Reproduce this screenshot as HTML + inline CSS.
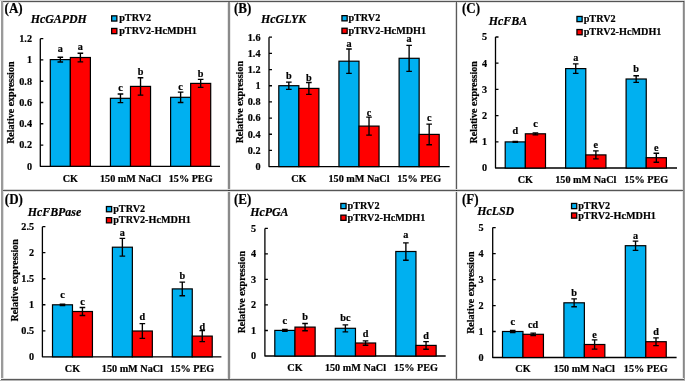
<!DOCTYPE html>
<html><head><meta charset="utf-8"><style>
html,body{margin:0;padding:0;background:#fff;width:685px;height:381px;overflow:hidden}
svg{display:block;will-change:transform}
text{font-family:"Liberation Serif",serif;font-weight:bold;fill:#000;stroke:#000;stroke-width:0.2px}
.t{font-size:10.2px}
.pl{font-size:14.2px}
.ti{font-size:11.9px;font-style:italic}
</style></head><body>
<svg width="685" height="381" viewBox="0 0 685 381">
<rect x="0" y="0" width="685" height="381" fill="#fff"/>
<rect x="0" y="0" width="685" height="1" fill="#d8d8d8"/>
<rect x="1" y="1" width="683" height="1" fill="#555"/>
<rect x="1" y="2" width="683" height="1" fill="#e4e4e4"/>
<rect x="1" y="1" width="2" height="379" fill="#9a9a9a"/>
<rect x="3" y="2" width="1" height="377" fill="#dedede"/>
<rect x="682" y="2" width="1" height="377" fill="#e8e8e8"/>
<rect x="683" y="2" width="1" height="378" fill="#888"/>
<rect x="683" y="1" width="1" height="1" fill="#444"/>
<rect x="684" y="1" width="1" height="380" fill="#9c9c9c"/>
<rect x="1" y="378" width="683" height="1" fill="#e4e4e4"/>
<rect x="1" y="379" width="683" height="1" fill="#5a5a5a"/>
<rect x="0" y="380" width="685" height="1" fill="#b4b4b4"/>
<rect x="227" y="2" width="1" height="377" fill="#e6e6e6"/>
<rect x="228" y="2" width="2" height="377" fill="#8a8a8a"/>
<rect x="230" y="2" width="1" height="377" fill="#eaeaea"/>
<rect x="455" y="2" width="1" height="377" fill="#d8d8d8"/>
<rect x="456" y="2" width="1" height="377" fill="#5a5a5a"/>
<rect x="457" y="2" width="1" height="377" fill="#e6e6e6"/>
<rect x="3" y="189" width="680" height="1" fill="#d6d6d6"/>
<rect x="3" y="190" width="680" height="1" fill="#555"/>
<rect x="3" y="191" width="680" height="1" fill="#dcdcdc"/>
<rect x="228" y="190" width="2" height="1" fill="#333"/>
<rect x="456" y="190" width="1" height="1" fill="#222"/>
<text x="0" y="0" class="pl" transform="translate(4.6 12.9) scale(0.92 1)">(A)</text>
<text x="30.7" y="23.4" class="ti">HcGAPDH</text>
<rect x="111.65" y="15.85" width="5.2" height="5.2" fill="#00B0F0" stroke="#000" stroke-width="1.3"/>
<text x="119.2" y="21.4" class="t">pTRV2</text>
<rect x="111.65" y="28.45" width="5.2" height="5.2" fill="#FF0000" stroke="#000" stroke-width="1.3"/>
<text x="119.2" y="34" class="t">pTRV2-HcMDH1</text>
<text x="0" y="0" class="t" text-anchor="middle" transform="translate(10.3 102.7) rotate(-90)" dy="3.4" style="font-size:10px">Relative expression</text>
<path d="M40.3 38.7V166.3H220" fill="none" stroke="#000" stroke-width="1.3" stroke-linejoin="round"/>
<text x="32" y="169.6" class="t" text-anchor="end">0</text>
<text x="32" y="148.33" class="t" text-anchor="end">0.2</text>
<text x="32" y="127.07" class="t" text-anchor="end">0.4</text>
<text x="32" y="105.8" class="t" text-anchor="end">0.6</text>
<text x="32" y="84.53" class="t" text-anchor="end">0.8</text>
<text x="32" y="63.27" class="t" text-anchor="end">1</text>
<text x="32" y="42" class="t" text-anchor="end">1.2</text>
<path d="M40.3 145.03h3M40.3 123.77h3M40.3 102.5h3M40.3 81.23h3M40.3 59.97h3M40.3 38.7h3" stroke="#000" stroke-width="1.3"/>
<rect x="50.3" y="59.6" width="20.05" height="106.7" fill="#00B0F0" stroke="#000" stroke-width="1.2"/>
<rect x="70.35" y="57.5" width="20.05" height="108.8" fill="#FF0000" stroke="#000" stroke-width="1.2"/>
<path d="M60.32 57.2V62M57.52 57.2h5.6M57.52 62h5.6" stroke="#000" stroke-width="1.35"/>
<text x="60.32" y="52.4" class="t" text-anchor="middle">a</text>
<path d="M80.38 53.2V61.8M77.58 53.2h5.6M77.58 61.8h5.6" stroke="#000" stroke-width="1.35"/>
<text x="80.38" y="50.1" class="t" text-anchor="middle">a</text>
<text x="70.35" y="181.8" class="t" text-anchor="middle">CK</text>
<rect x="110.45" y="98.3" width="20.05" height="68" fill="#00B0F0" stroke="#000" stroke-width="1.2"/>
<rect x="130.5" y="86.4" width="20.05" height="79.9" fill="#FF0000" stroke="#000" stroke-width="1.2"/>
<path d="M120.47 94V102.6M117.67 94h5.6M117.67 102.6h5.6" stroke="#000" stroke-width="1.35"/>
<text x="120.47" y="91" class="t" text-anchor="middle">c</text>
<path d="M140.53 77.7V95.1M137.72 77.7h5.6M137.72 95.1h5.6" stroke="#000" stroke-width="1.35"/>
<text x="140.53" y="74.9" class="t" text-anchor="middle">b</text>
<text x="130.5" y="181.8" class="t" text-anchor="middle">150 mM NaCl</text>
<rect x="170.6" y="97.3" width="20.05" height="69" fill="#00B0F0" stroke="#000" stroke-width="1.2"/>
<rect x="190.65" y="83.4" width="20.05" height="82.9" fill="#FF0000" stroke="#000" stroke-width="1.2"/>
<path d="M180.62 92.1V102.5M177.82 92.1h5.6M177.82 102.5h5.6" stroke="#000" stroke-width="1.35"/>
<text x="180.62" y="90.1" class="t" text-anchor="middle">c</text>
<path d="M200.67 79.4V87.4M197.87 79.4h5.6M197.87 87.4h5.6" stroke="#000" stroke-width="1.35"/>
<text x="200.67" y="76.7" class="t" text-anchor="middle">b</text>
<text x="190.65" y="181.8" class="t" text-anchor="middle">15% PEG</text>
<text x="0" y="0" class="pl" transform="translate(233.9 12.9) scale(0.92 1)">(B)</text>
<text x="261.1" y="22.8" class="ti">HcGLYK</text>
<rect x="341.95" y="15.65" width="5.2" height="5.2" fill="#00B0F0" stroke="#000" stroke-width="1.3"/>
<text x="348.4" y="21.2" class="t">pTRV2</text>
<rect x="341.95" y="28.25" width="5.2" height="5.2" fill="#FF0000" stroke="#000" stroke-width="1.3"/>
<text x="348.4" y="33.8" class="t">pTRV2-HcMDH1</text>
<text x="0" y="0" class="t" text-anchor="middle" transform="translate(239.5 102.2) rotate(-90)" dy="3.4" style="font-size:10px">Relative expression</text>
<path d="M269 37.2V166.6H449.6" fill="none" stroke="#000" stroke-width="1.3" stroke-linejoin="round"/>
<text x="260.5" y="169.9" class="t" text-anchor="end">0</text>
<text x="260.5" y="153.73" class="t" text-anchor="end">0.2</text>
<text x="260.5" y="137.55" class="t" text-anchor="end">0.4</text>
<text x="260.5" y="121.38" class="t" text-anchor="end">0.6</text>
<text x="260.5" y="105.2" class="t" text-anchor="end">0.8</text>
<text x="260.5" y="89.03" class="t" text-anchor="end">1</text>
<text x="260.5" y="72.85" class="t" text-anchor="end">1.2</text>
<text x="260.5" y="56.68" class="t" text-anchor="end">1.4</text>
<text x="260.5" y="40.5" class="t" text-anchor="end">1.6</text>
<path d="M269 150.43h3M269 134.25h3M269 118.08h3M269 101.9h3M269 85.73h3M269 69.55h3M269 53.38h3M269 37.2h3" stroke="#000" stroke-width="1.3"/>
<rect x="278.8" y="85.7" width="20.05" height="80.9" fill="#00B0F0" stroke="#000" stroke-width="1.2"/>
<rect x="298.85" y="88.4" width="20.05" height="78.2" fill="#FF0000" stroke="#000" stroke-width="1.2"/>
<path d="M288.83 82.1V89.3M286.03 82.1h5.6M286.03 89.3h5.6" stroke="#000" stroke-width="1.35"/>
<text x="288.83" y="78.8" class="t" text-anchor="middle">b</text>
<path d="M308.88 82.5V94.3M306.07 82.5h5.6M306.07 94.3h5.6" stroke="#000" stroke-width="1.35"/>
<text x="308.88" y="80.9" class="t" text-anchor="middle">b</text>
<text x="298.85" y="181.7" class="t" text-anchor="middle">CK</text>
<rect x="338.95" y="61.2" width="20.05" height="105.4" fill="#00B0F0" stroke="#000" stroke-width="1.2"/>
<rect x="359" y="126.1" width="20.05" height="40.5" fill="#FF0000" stroke="#000" stroke-width="1.2"/>
<path d="M348.98 49V73.4M346.18 49h5.6M346.18 73.4h5.6" stroke="#000" stroke-width="1.35"/>
<text x="348.98" y="46.5" class="t" text-anchor="middle">a</text>
<path d="M369.02 117.1V135.1M366.22 117.1h5.6M366.22 135.1h5.6" stroke="#000" stroke-width="1.35"/>
<text x="369.02" y="116.3" class="t" text-anchor="middle">c</text>
<text x="359" y="181.7" class="t" text-anchor="middle">150 mM NaCl</text>
<rect x="399.1" y="58.3" width="20.05" height="108.3" fill="#00B0F0" stroke="#000" stroke-width="1.2"/>
<rect x="419.15" y="134.4" width="20.05" height="32.2" fill="#FF0000" stroke="#000" stroke-width="1.2"/>
<path d="M409.12 45.3V71.3M406.32 45.3h5.6M406.32 71.3h5.6" stroke="#000" stroke-width="1.35"/>
<text x="409.12" y="41.8" class="t" text-anchor="middle">a</text>
<path d="M429.18 124.1V144.7M426.38 124.1h5.6M426.38 144.7h5.6" stroke="#000" stroke-width="1.35"/>
<text x="429.18" y="120.7" class="t" text-anchor="middle">c</text>
<text x="419.15" y="181.7" class="t" text-anchor="middle">15% PEG</text>
<text x="0" y="0" class="pl" transform="translate(462 12.9) scale(0.92 1)">(C)</text>
<text x="488.8" y="24.8" class="ti">HcFBA</text>
<rect x="576.95" y="16.45" width="5.2" height="5.2" fill="#00B0F0" stroke="#000" stroke-width="1.3"/>
<text x="583.7" y="22" class="t">pTRV2</text>
<rect x="576.95" y="29.55" width="5.2" height="5.2" fill="#FF0000" stroke="#000" stroke-width="1.3"/>
<text x="583.7" y="35.1" class="t">pTRV2-HcMDH1</text>
<text x="0" y="0" class="t" text-anchor="middle" transform="translate(473.2 102.3) rotate(-90)" dy="3.4" style="font-size:10px">Relative expression</text>
<path d="M495.5 37V168H677" fill="none" stroke="#000" stroke-width="1.3" stroke-linejoin="round"/>
<text x="487" y="171.3" class="t" text-anchor="end">0</text>
<text x="487" y="145.1" class="t" text-anchor="end">1</text>
<text x="487" y="118.9" class="t" text-anchor="end">2</text>
<text x="487" y="92.7" class="t" text-anchor="end">3</text>
<text x="487" y="66.5" class="t" text-anchor="end">4</text>
<text x="487" y="40.3" class="t" text-anchor="end">5</text>
<path d="M495.5 141.8h3M495.5 115.6h3M495.5 89.4h3M495.5 63.2h3M495.5 37h3" stroke="#000" stroke-width="1.3"/>
<rect x="505.2" y="141.9" width="20.15" height="26.1" fill="#00B0F0" stroke="#000" stroke-width="1.2"/>
<rect x="525.35" y="133.8" width="20.15" height="34.2" fill="#FF0000" stroke="#000" stroke-width="1.2"/>
<path d="M515.27 141.4V142.4M512.48 141.4h5.6M512.48 142.4h5.6" stroke="#000" stroke-width="1.35"/>
<text x="515.27" y="134.4" class="t" text-anchor="middle">d</text>
<path d="M535.42 132.8V134.8M532.62 132.8h5.6M532.62 134.8h5.6" stroke="#000" stroke-width="1.35"/>
<text x="535.42" y="126.8" class="t" text-anchor="middle">c</text>
<text x="525.35" y="182.9" class="t" text-anchor="middle">CK</text>
<rect x="565.65" y="68.6" width="20.15" height="99.4" fill="#00B0F0" stroke="#000" stroke-width="1.2"/>
<rect x="585.8" y="154.9" width="20.15" height="13.1" fill="#FF0000" stroke="#000" stroke-width="1.2"/>
<path d="M575.73 63.9V73.3M572.93 63.9h5.6M572.93 73.3h5.6" stroke="#000" stroke-width="1.35"/>
<text x="575.73" y="61.4" class="t" text-anchor="middle">a</text>
<path d="M595.88 150.9V158.9M593.08 150.9h5.6M593.08 158.9h5.6" stroke="#000" stroke-width="1.35"/>
<text x="595.88" y="148.3" class="t" text-anchor="middle">e</text>
<text x="585.8" y="182.9" class="t" text-anchor="middle">150 mM NaCl</text>
<rect x="626.1" y="79" width="20.15" height="89" fill="#00B0F0" stroke="#000" stroke-width="1.2"/>
<rect x="646.25" y="157.7" width="20.15" height="10.3" fill="#FF0000" stroke="#000" stroke-width="1.2"/>
<path d="M636.17 75.7V82.3M633.38 75.7h5.6M633.38 82.3h5.6" stroke="#000" stroke-width="1.35"/>
<text x="636.17" y="72" class="t" text-anchor="middle">b</text>
<path d="M656.33 153.2V162.2M653.53 153.2h5.6M653.53 162.2h5.6" stroke="#000" stroke-width="1.35"/>
<text x="656.33" y="150.8" class="t" text-anchor="middle">e</text>
<text x="646.25" y="182.9" class="t" text-anchor="middle">15% PEG</text>
<text x="0" y="0" class="pl" transform="translate(4.8 203.6) scale(0.92 1)">(D)</text>
<text x="27.7" y="215.5" class="ti">HcFBPase</text>
<rect x="106.45" y="206.55" width="5.2" height="5.2" fill="#00B0F0" stroke="#000" stroke-width="1.3"/>
<text x="113.2" y="212.1" class="t">pTRV2</text>
<rect x="106.45" y="217.65" width="5.2" height="5.2" fill="#FF0000" stroke="#000" stroke-width="1.3"/>
<text x="113.2" y="223.2" class="t">pTRV2-HcMDH1</text>
<text x="0" y="0" class="t" text-anchor="middle" transform="translate(15 280.4) rotate(-90)" dy="3.4" style="font-size:10px">Relative expression</text>
<path d="M42.4 226.7V356.8H221.4" fill="none" stroke="#000" stroke-width="1.3" stroke-linejoin="round"/>
<text x="34.1" y="360.1" class="t" text-anchor="end">0</text>
<text x="34.1" y="334.08" class="t" text-anchor="end">0.5</text>
<text x="34.1" y="308.06" class="t" text-anchor="end">1</text>
<text x="34.1" y="282.04" class="t" text-anchor="end">1.5</text>
<text x="34.1" y="256.02" class="t" text-anchor="end">2</text>
<text x="34.1" y="230" class="t" text-anchor="end">2.5</text>
<path d="M42.4 330.78h3M42.4 304.76h3M42.4 278.74h3M42.4 252.72h3M42.4 226.7h3" stroke="#000" stroke-width="1.3"/>
<rect x="52.5" y="304.8" width="19.97" height="52" fill="#00B0F0" stroke="#000" stroke-width="1.2"/>
<rect x="72.47" y="311.5" width="19.97" height="45.3" fill="#FF0000" stroke="#000" stroke-width="1.2"/>
<path d="M62.48 304.1V305.5M59.68 304.1h5.6M59.68 305.5h5.6" stroke="#000" stroke-width="1.35"/>
<text x="62.48" y="298" class="t" text-anchor="middle">c</text>
<path d="M82.45 307.5V315.5M79.65 307.5h5.6M79.65 315.5h5.6" stroke="#000" stroke-width="1.35"/>
<text x="82.45" y="304.8" class="t" text-anchor="middle">c</text>
<text x="72.47" y="371.6" class="t" text-anchor="middle">CK</text>
<rect x="112.4" y="247.2" width="19.97" height="109.6" fill="#00B0F0" stroke="#000" stroke-width="1.2"/>
<rect x="132.37" y="331" width="19.97" height="25.8" fill="#FF0000" stroke="#000" stroke-width="1.2"/>
<path d="M122.38 238.3V256.1M119.58 238.3h5.6M119.58 256.1h5.6" stroke="#000" stroke-width="1.35"/>
<text x="122.38" y="235.7" class="t" text-anchor="middle">a</text>
<path d="M142.35 323.6V338.4M139.55 323.6h5.6M139.55 338.4h5.6" stroke="#000" stroke-width="1.35"/>
<text x="142.35" y="319.7" class="t" text-anchor="middle">d</text>
<text x="132.37" y="371.6" class="t" text-anchor="middle">150 mM NaCl</text>
<rect x="172.3" y="288.9" width="19.97" height="67.9" fill="#00B0F0" stroke="#000" stroke-width="1.2"/>
<rect x="192.27" y="336.1" width="19.97" height="20.7" fill="#FF0000" stroke="#000" stroke-width="1.2"/>
<path d="M182.28 282.1V295.7M179.48 282.1h5.6M179.48 295.7h5.6" stroke="#000" stroke-width="1.35"/>
<text x="182.28" y="278.9" class="t" text-anchor="middle">b</text>
<path d="M202.25 330.6V341.6M199.45 330.6h5.6M199.45 341.6h5.6" stroke="#000" stroke-width="1.35"/>
<text x="202.25" y="329.6" class="t" text-anchor="middle">d</text>
<text x="192.27" y="371.6" class="t" text-anchor="middle">15% PEG</text>
<text x="0" y="0" class="pl" transform="translate(233.9 203.8) scale(0.92 1)">(E)</text>
<text x="250.2" y="216" class="ti">HcPGA</text>
<rect x="340.85" y="203.45" width="5.2" height="5.2" fill="#00B0F0" stroke="#000" stroke-width="1.3"/>
<text x="347.6" y="209" class="t">pTRV2</text>
<rect x="340.85" y="215.15" width="5.2" height="5.2" fill="#FF0000" stroke="#000" stroke-width="1.3"/>
<text x="347.6" y="220.7" class="t">pTRV2-HcMDH1</text>
<text x="0" y="0" class="t" text-anchor="middle" transform="translate(242 292.2) rotate(-90)" dy="3.4" style="font-size:10px">Relative expression</text>
<path d="M264.9 228.4V356H445.7" fill="none" stroke="#000" stroke-width="1.3" stroke-linejoin="round"/>
<text x="256" y="359.3" class="t" text-anchor="end">0</text>
<text x="256" y="333.78" class="t" text-anchor="end">1</text>
<text x="256" y="308.26" class="t" text-anchor="end">2</text>
<text x="256" y="282.74" class="t" text-anchor="end">3</text>
<text x="256" y="257.22" class="t" text-anchor="end">4</text>
<text x="256" y="231.7" class="t" text-anchor="end">5</text>
<path d="M264.9 330.48h3M264.9 304.96h3M264.9 279.44h3M264.9 253.92h3M264.9 228.4h3" stroke="#000" stroke-width="1.3"/>
<rect x="274.8" y="330.4" width="20.17" height="25.6" fill="#00B0F0" stroke="#000" stroke-width="1.2"/>
<rect x="294.97" y="327.1" width="20.17" height="28.9" fill="#FF0000" stroke="#000" stroke-width="1.2"/>
<path d="M284.88 329.4V331.4M282.08 329.4h5.6M282.08 331.4h5.6" stroke="#000" stroke-width="1.35"/>
<text x="284.88" y="323.9" class="t" text-anchor="middle">c</text>
<path d="M305.05 323.5V330.7M302.25 323.5h5.6M302.25 330.7h5.6" stroke="#000" stroke-width="1.35"/>
<text x="305.05" y="320.2" class="t" text-anchor="middle">b</text>
<text x="294.97" y="370.9" class="t" text-anchor="middle">CK</text>
<rect x="335.3" y="328.3" width="20.17" height="27.7" fill="#00B0F0" stroke="#000" stroke-width="1.2"/>
<rect x="355.47" y="343" width="20.17" height="13" fill="#FF0000" stroke="#000" stroke-width="1.2"/>
<path d="M345.38 324.8V331.8M342.58 324.8h5.6M342.58 331.8h5.6" stroke="#000" stroke-width="1.35"/>
<text x="345.38" y="320.8" class="t" text-anchor="middle">bc</text>
<path d="M365.55 340.8V345.2M362.75 340.8h5.6M362.75 345.2h5.6" stroke="#000" stroke-width="1.35"/>
<text x="365.55" y="336.5" class="t" text-anchor="middle">d</text>
<text x="355.47" y="370.9" class="t" text-anchor="middle">150 mM NaCl</text>
<rect x="395.8" y="251.5" width="20.17" height="104.5" fill="#00B0F0" stroke="#000" stroke-width="1.2"/>
<rect x="415.97" y="345.4" width="20.17" height="10.6" fill="#FF0000" stroke="#000" stroke-width="1.2"/>
<path d="M405.88 242.8V260.2M403.08 242.8h5.6M403.08 260.2h5.6" stroke="#000" stroke-width="1.35"/>
<text x="405.88" y="237.6" class="t" text-anchor="middle">a</text>
<path d="M426.05 341.6V349.2M423.25 341.6h5.6M423.25 349.2h5.6" stroke="#000" stroke-width="1.35"/>
<text x="426.05" y="338.9" class="t" text-anchor="middle">d</text>
<text x="415.97" y="370.9" class="t" text-anchor="middle">15% PEG</text>
<text x="0" y="0" class="pl" transform="translate(462 204.2) scale(0.92 1)">(F)</text>
<text x="477.2" y="214.8" class="ti">HcLSD</text>
<rect x="571.55" y="203.45" width="5.2" height="5.2" fill="#00B0F0" stroke="#000" stroke-width="1.3"/>
<text x="578.2" y="209" class="t">pTRV2</text>
<rect x="571.55" y="212.95" width="5.2" height="5.2" fill="#FF0000" stroke="#000" stroke-width="1.3"/>
<text x="578.2" y="218.5" class="t">pTRV2-HcMDH1</text>
<text x="0" y="0" class="t" text-anchor="middle" transform="translate(470.3 292.7) rotate(-90)" dy="3.4" style="font-size:10px">Relative expression</text>
<path d="M492.7 227.6V357.5H676.6" fill="none" stroke="#000" stroke-width="1.3" stroke-linejoin="round"/>
<text x="483.5" y="360.8" class="t" text-anchor="end">0</text>
<text x="483.5" y="334.82" class="t" text-anchor="end">1</text>
<text x="483.5" y="308.84" class="t" text-anchor="end">2</text>
<text x="483.5" y="282.86" class="t" text-anchor="end">3</text>
<text x="483.5" y="256.88" class="t" text-anchor="end">4</text>
<text x="483.5" y="230.9" class="t" text-anchor="end">5</text>
<path d="M492.7 331.52h3M492.7 305.54h3M492.7 279.56h3M492.7 253.58h3M492.7 227.6h3" stroke="#000" stroke-width="1.3"/>
<rect x="502.5" y="331.5" width="20.47" height="26" fill="#00B0F0" stroke="#000" stroke-width="1.2"/>
<rect x="522.97" y="334.3" width="20.47" height="23.2" fill="#FF0000" stroke="#000" stroke-width="1.2"/>
<path d="M512.73 330.5V332.5M509.93 330.5h5.6M509.93 332.5h5.6" stroke="#000" stroke-width="1.35"/>
<text x="512.73" y="324.5" class="t" text-anchor="middle">c</text>
<path d="M533.2 333.1V335.5M530.4 333.1h5.6M530.4 335.5h5.6" stroke="#000" stroke-width="1.35"/>
<text x="533.2" y="327.6" class="t" text-anchor="middle">cd</text>
<text x="522.97" y="372.4" class="t" text-anchor="middle">CK</text>
<rect x="563.9" y="302.8" width="20.47" height="54.7" fill="#00B0F0" stroke="#000" stroke-width="1.2"/>
<rect x="584.37" y="344.5" width="20.47" height="13" fill="#FF0000" stroke="#000" stroke-width="1.2"/>
<path d="M574.13 298.9V306.7M571.33 298.9h5.6M571.33 306.7h5.6" stroke="#000" stroke-width="1.35"/>
<text x="574.13" y="296" class="t" text-anchor="middle">b</text>
<path d="M594.6 339.9V349.1M591.8 339.9h5.6M591.8 349.1h5.6" stroke="#000" stroke-width="1.35"/>
<text x="594.6" y="338" class="t" text-anchor="middle">e</text>
<text x="584.37" y="372.4" class="t" text-anchor="middle">150 mM NaCl</text>
<rect x="625.3" y="245.7" width="20.47" height="111.8" fill="#00B0F0" stroke="#000" stroke-width="1.2"/>
<rect x="645.77" y="341.7" width="20.47" height="15.8" fill="#FF0000" stroke="#000" stroke-width="1.2"/>
<path d="M635.53 241.1V250.3M632.73 241.1h5.6M632.73 250.3h5.6" stroke="#000" stroke-width="1.35"/>
<text x="635.53" y="238.7" class="t" text-anchor="middle">a</text>
<path d="M656 337.8V345.6M653.2 337.8h5.6M653.2 345.6h5.6" stroke="#000" stroke-width="1.35"/>
<text x="656" y="334.8" class="t" text-anchor="middle">d</text>
<text x="645.77" y="372.4" class="t" text-anchor="middle">15% PEG</text>
</svg>
</body></html>
